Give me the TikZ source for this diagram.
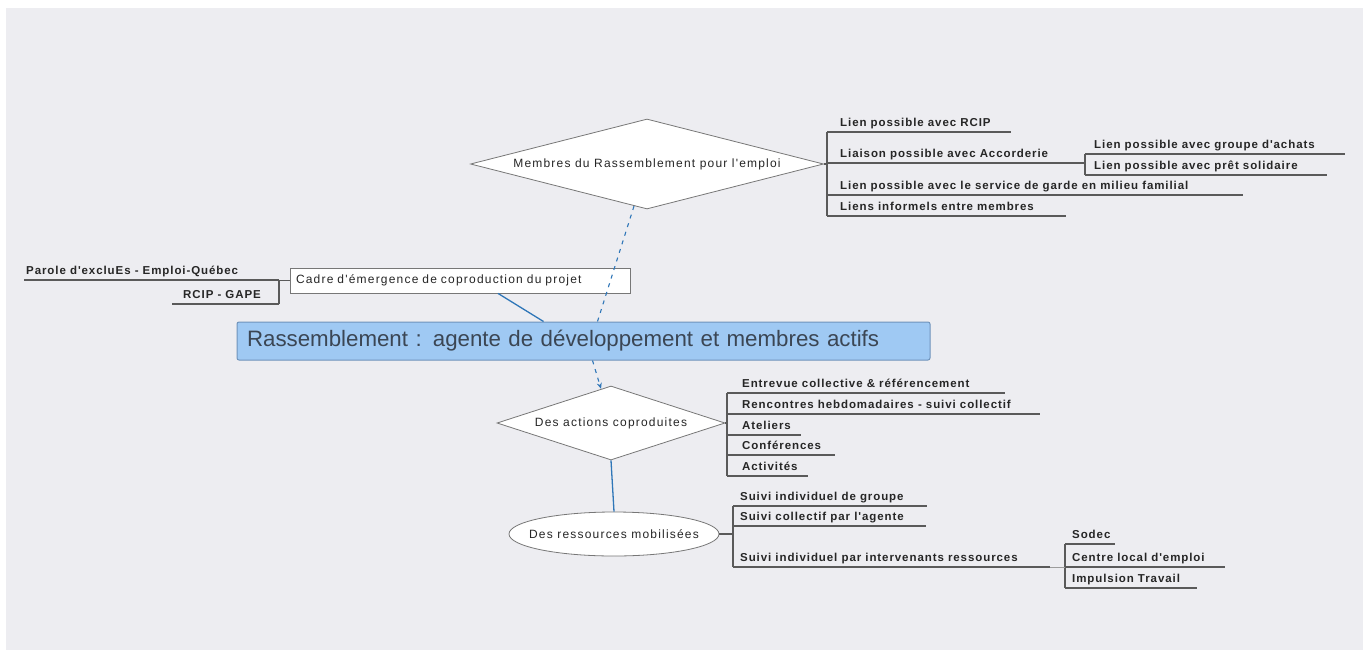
\documentclass[tikz,border=0pt]{standalone}
\usepackage{fontspec}
\setmainfont{Liberation Sans}
\newfontfamily\mapfont[LetterSpace=10]{Liberation Sans}
\newfontfamily\leaffont[LetterSpace=8]{Liberation Sans}
\usetikzlibrary{shapes.geometric,arrows.meta}

\definecolor{bggray}{HTML}{EDEDF1}
\definecolor{linkblue}{HTML}{2F76B8}
\definecolor{titlefill}{HTML}{9FC9F3}
\definecolor{titledraw}{HTML}{6F93BB}
\definecolor{titletext}{HTML}{3B4654}
\definecolor{branchgray}{HTML}{5A5A5A}
\definecolor{shapegray}{HTML}{777777}

\tikzset{
  branch/.style={draw=branchgray, line width=1.1pt},
  leaf/.style 2 args={anchor=south west, inner xsep=0pt, inner ysep=2.5pt,
    text height=9pt, text depth=3pt, text=black!85,
    font=\leaffont\bfseries\fontsize{11.5}{13}\selectfont,
    append after command={([xshift=-#2]\tikzlastnode.south west)
      edge[branch] ([xshift=#1]\tikzlastnode.south west)}},
  maptext/.style={font=\mapfont\fontsize{12}{14}\selectfont, text=black!85},
  choice/.style 2 args={diamond, draw=shapegray, fill=white, line width=0.8pt,
    inner sep=0pt, minimum width=#1, minimum height=#2},
  resource/.style={ellipse, draw=shapegray, fill=white, line width=0.8pt,
    inner sep=0pt, minimum width=210pt, minimum height=44pt},
  frame/.style={rectangle, draw=shapegray, fill=white, line width=0.8pt,
    inner xsep=6pt, text width=328pt, align=left, minimum height=25pt, maptext},
  core/.style={rectangle, rounded corners=2pt, draw=titledraw, fill=titlefill,
    line width=1pt, inner xsep=10pt, text width=673pt, align=left,
    minimum height=38pt, text=titletext, font=\fontsize{22.3}{26}\selectfont},
  solidlink/.style={draw=linkblue, line width=1.3pt},
  dashlink/.style={draw=linkblue, line width=1.1pt, dash pattern=on 4pt off 5pt},
}

\begin{document}
\begin{tikzpicture}[x=1pt, y=-1pt]
    \useasboundingbox (0,0) rectangle (1363,656);
    \fill[white] (0,0) rectangle (1363,656);
    \fill[bggray] (6,8) rectangle (1363,650);

    % main shapes
    \node (1) [choice={353pt}{90pt}, label={[maptext]center:Membres du Rassemblement pour l'emploi}] at (647,164) {};
    \node (2) [frame] at (460,280.5) {Cadre d'émergence de coproduction du projet};
    \node (3) [core] at (583.5,341) {Rassemblement : agente de développement et membres actifs};
    \node (4) [choice={228pt}{74pt}, label={[maptext]center:Des actions coproduites}] at (611,423) {};
    \node (5) [resource, label={[maptext]center:Des ressources mobilisées}] at (614,534) {};

    % branches of (1)
    \node (6) [leaf={171pt}{13pt}] at (840,132) {Lien possible avec RCIP};
    \node (7) [leaf={245pt}{13pt}] at (840,163) {Liaison possible avec Accorderie};
    \node (8) [leaf={403pt}{13pt}] at (840,195) {Lien possible avec le service de garde en milieu familial};
    \node (9) [leaf={226pt}{13pt}] at (840,216) {Liens informels entre membres};
    \node (10) [leaf={251pt}{9pt}] at (1094,154) {Lien possible avec groupe d'achats};
    \node (11) [leaf={233pt}{9pt}] at (1094,175) {Lien possible avec prêt solidaire};

    % branches of (4)
    \node (12) [leaf={263pt}{15pt}] at (742,393) {Entrevue collective \& référencement};
    \node (13) [leaf={298pt}{15pt}] at (742,414) {Rencontres hebdomadaires - suivi collectif};
    \node (14) [leaf={59pt}{15pt}] at (742,435) {Ateliers};
    \node (15) [leaf={93pt}{15pt}] at (742,455) {Conférences};
    \node (16) [leaf={66pt}{15pt}] at (742,476) {Activités};

    % branches of (5)
    \node (17) [leaf={187pt}{7pt}] at (740,506) {Suivi individuel de groupe};
    \node (18) [leaf={186pt}{7pt}] at (740,526) {Suivi collectif par l'agente};
    \node (19) [leaf={310pt}{7pt}] at (740,567) {Suivi individuel par intervenants ressources};
    \node (20) [leaf={43pt}{7pt}] at (1072,544) {Sodec};
    \node (21) [leaf={153pt}{7pt}] at (1072,567) {Centre local d'emploi};
    \node (22) [leaf={125pt}{7pt}] at (1072,588) {Impulsion Travail};

    % branches of (2)
    \node (23) [leaf={253pt}{2pt}] at (26,280) {Parole d'excluEs - Emploi-Québec};
    \node (24) [leaf={96pt}{11pt}] at (183,304) {RCIP - GAPE};

    \coordinate (bA) at ([xshift=-13pt]6.south west);
    \coordinate (bB) at ([xshift=-9pt]10.south west);
    \coordinate (bC) at ([xshift=-15pt]12.south west);
    \coordinate (bD) at ([xshift=-7pt]17.south west);
    \coordinate (bE) at ([xshift=-7pt]20.south west);
    \coordinate (bL) at ([xshift=253pt]23.south west);
    \coordinate (d3) at ([xshift=310pt]19.south west);

    \draw[branch] (bA) -- ([xshift=-13pt]9.south west);
    \draw[branch] (bB) -- ([xshift=-9pt]11.south west);
    \draw[branch] (bC) -- ([xshift=-15pt]16.south west);
    \draw[branch] (bD) -- ([xshift=-7pt]19.south west);
    \draw[branch] (bE) -- ([xshift=-7pt]22.south west);
    \draw[branch] (bL) -- ([xshift=96pt]24.south west);

    \path
    (1.east) edge[branch] (1.east -| bA)
    (4.east) edge[branch] (4.east -| bC)
    (5.east) edge[branch] (5.east -| bD)
    (d3) edge[draw=branchgray!60, line width=1pt] (d3 -| bE)
    (2.west) edge[branch] (2.west -| bL)
    ([xshift=38pt]2.south) edge[solidlink] ([xshift=-40pt]3.north)
    ([xshift=-13pt,yshift=3.3pt]1.south) edge[dashlink] ([xshift=14pt]3.north)
    ([xshift=9pt]3.south) edge[dashlink, -{Stealth[length=6pt,width=5pt]}] ([xshift=-10pt,yshift=-3.2pt]4.north)
    (4.south) edge[solidlink] (5.north);

\end{tikzpicture}
\end{document}
